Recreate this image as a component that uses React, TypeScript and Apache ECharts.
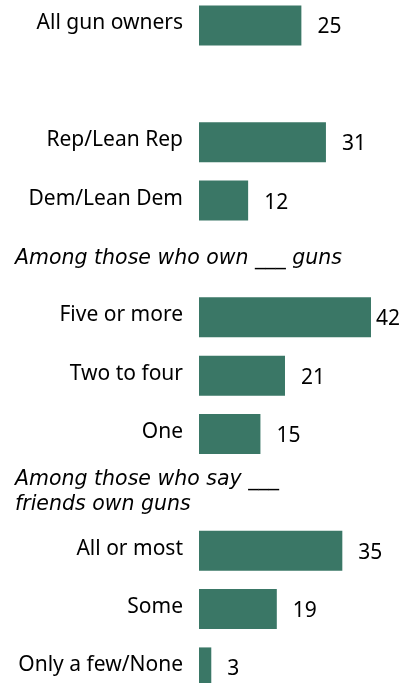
import React, { useEffect, useRef } from "react";
import * as echarts from "echarts";

const overallLabels = ["All gun owners"];
const overallValues = [25];
const partyLabels = ["Rep/Lean Rep", "Dem/Lean Dem"];
const partyValues = [31, 12];
const ownHeading = "Among those who own ___ guns";
const ownLabels = ["Five or more", "Two to four", "One"];
const ownValues = [42, 21, 15];
const friendsHeading = "Among those who say ___\nfriends own guns";
const friendsLabels = ["All or most", "Some", "Only a few/None"];
const friendsValues = [35, 19, 3];

const FONT = '"Noto Sans", sans-serif';
const HEAD_FONT = '"DejaVu Sans", sans-serif';
const BAR = "#3a7766";
const SHIFT = 20;

type Row = { key: string; label: string; value: number | null; heading?: string };

export default function App() {
  const ref = useRef<HTMLDivElement>(null);
  useEffect(() => {
    const chart = echarts.init(ref.current!, null, { renderer: "svg" });
    const rows: Row[] = [];
    const addGroup = (labels: string[], values: number[]) =>
      labels.forEach((l, i) => rows.push({ key: l, label: l, value: values[i] }));
    addGroup(overallLabels, overallValues);
    rows.push({ key: "__gap", label: "", value: null });
    addGroup(partyLabels, partyValues);
    rows.push({ key: "__h1", label: "", value: null, heading: ownHeading });
    addGroup(ownLabels, ownValues);
    rows.push({ key: "__h2", label: "", value: null, heading: friendsHeading });
    addGroup(friendsLabels, friendsValues);

    const keys = rows.map((r) => r.key);
    const labelOf: Record<string, string> = {};
    rows.forEach((r) => (labelOf[r.key] = r.label));

    chart.setOption({
      animation: false,
      grid: { left: 199, width: 204.75, top: 16.3, height: 700.3 },
      xAxis: { type: "value", min: 0, max: 50, show: false },
      yAxis: {
        type: "category",
        data: keys,
        inverse: true,
        axisLine: { show: false },
        axisTick: { show: false },
        axisLabel: {
          margin: 16,
          color: "#000",
          fontFamily: FONT,
          fontSize: 21,
          formatter: (v: string) => (labelOf[v] ? `{c|${labelOf[v]}}` : ""),
          rich: {
            c: {
              color: "#000",
              fontFamily: FONT,
              fontSize: 21,
              padding: [0, 0, 8, 0],
            },
          },
        },
      },
      series: [
        {
          type: "bar",
          barWidth: 40,
          itemStyle: { color: BAR },
          label: {
            show: true,
            position: "right",
            distance: 16,
            color: "#000",
            fontFamily: FONT,
            fontSize: 21,
          },
          data: rows.map((r) =>
            r.value == null
              ? null
              : r.value >= 40
              ? { value: r.value, label: { distance: 5 } }
              : r.value
          ),
        },
      ],
    });

    chart.setOption({
      graphic: rows
        .filter((r) => r.heading)
        .map((r) => ({
          type: "text",
          x: 15,
          y: (chart.convertToPixel({ yAxisIndex: 0 }, r.key) as number) - 2,
          style: {
            text: r.heading,
            fill: "#000",
            font: `italic 20.5px ${HEAD_FONT}`,
            lineHeight: 25,
            verticalAlign: "middle",
          },
        })),
    });

    return () => chart.dispose();
  }, []);
  return (
    <div
      ref={ref}
      style={{ position: "fixed", left: 0, top: -SHIFT, width: 413, height: 683 + 2 * SHIFT }}
    />
  );
}
